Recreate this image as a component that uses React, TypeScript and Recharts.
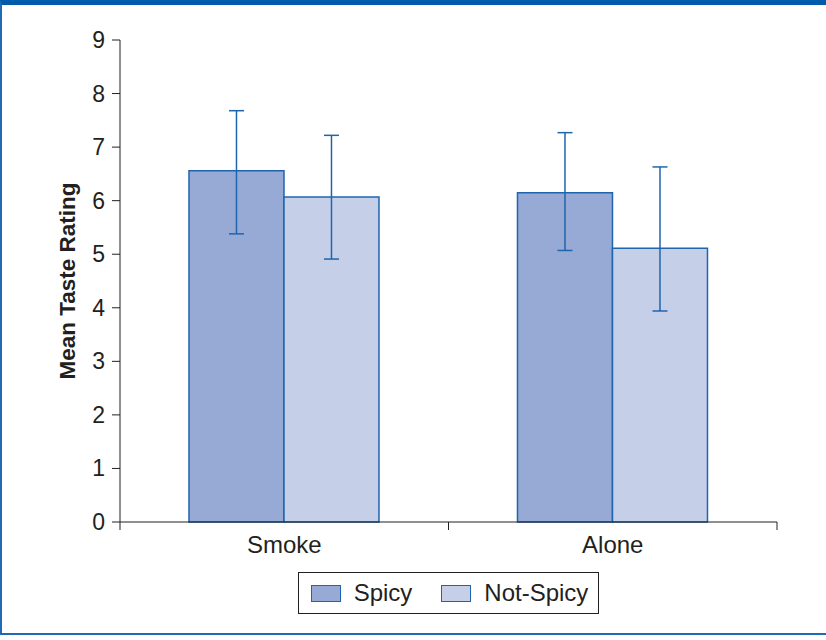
import { BarChart, Bar, XAxis, YAxis, ErrorBar, Legend } from 'recharts';

const categories = ['Smoke', 'Alone'];
const spicy = [6.56, 6.15];
const notSpicy = [6.07, 5.11];
// [below, above] the mean
const spicyErr = [[1.18, 1.12], [1.08, 1.12]];
const notSpicyErr = [[1.16, 1.15], [1.17, 1.52]];
const yTicks = [0, 1, 2, 3, 4, 5, 6, 7, 8, 9];

const data = categories.map((name, i) => ({
  name,
  Spicy: spicy[i],
  'Not-Spicy': notSpicy[i],
  spicyErr: spicyErr[i],
  notSpicyErr: notSpicyErr[i],
}));

const FONT = 'Liberation Sans, Arial, Helvetica, sans-serif';
const INK = '#231f20';
const EDGE = '#1f64af';
const SPICY = '#97aad6';
const NOT_SPICY = '#c5d0e8';

function CategoryTick(props: any) {
  const { x, y, payload, index } = props;
  const half = payload.offset || 0;
  const last = index === categories.length - 1;
  return (
    <g>
      <line x1={x - half} y1={y} x2={x - half} y2={y + 8} stroke={INK} />
      {last && <line x1={x + half} y1={y} x2={x + half} y2={y + 8} stroke={INK} />}
      <text x={x} y={y + 31} textAnchor="middle" fontSize={24} fill={INK} fontFamily={FONT}>
        {payload.value}
      </text>
    </g>
  );
}

function ValueTick(props: any) {
  const { x, y, payload } = props;
  return (
    <text x={x} y={y + 8} textAnchor="end" fontSize={23} fill={INK} fontFamily={FONT}>
      {payload.value}
    </text>
  );
}

function LegendBox() {
  const items = [
    { label: 'Spicy', color: SPICY },
    { label: 'Not-Spicy', color: NOT_SPICY },
  ];
  return (
    <div style={{ display: 'flex', justifyContent: 'center' }}>
      <div
        style={{
          display: 'flex',
          alignItems: 'center',
          border: `1px solid ${INK}`,
          height: 40,
          padding: '0 10px 0 12px',
          fontFamily: FONT,
          fontSize: 24,
          color: INK,
        }}
      >
        {items.map((it, i) => (
          <div key={it.label} style={{ display: 'flex', alignItems: 'center', marginLeft: i ? 29 : 0 }}>
            <span
              style={{
                display: 'inline-block',
                width: 30,
                height: 17,
                background: it.color,
                border: `1.5px solid ${EDGE}`,
                boxSizing: 'border-box',
                marginRight: 13,
              }}
            />
            <span>{it.label}</span>
          </div>
        ))}
      </div>
    </div>
  );
}

export default function App() {
  return (
    <div style={{ position: 'absolute', left: 0, top: 0, width: 826, height: 640, background: '#fff' }}>
      <div
        style={{
          position: 'absolute',
          left: 0,
          top: 0,
          width: 830,
          height: 635,
          borderTop: '5px solid #005baa',
          borderLeft: '2px solid #1f6ab5',
          borderBottom: '2px solid #1f6ab5',
          boxSizing: 'border-box',
        }}
      />
      <div style={{ position: 'absolute', left: 0, top: 0 }}>
        <BarChart
          width={826}
          height={640}
          data={data}
          margin={{ top: 40, right: 49, bottom: 26, left: 0 }}
          barCategoryGap="21%"
          barGap={0}
        >
          <XAxis
            dataKey="name"
            height={50}
            axisLine={{ stroke: INK }}
            tickLine={false}
            tickSize={0}
            tickMargin={0}
            tick={<CategoryTick />}
          />
          <YAxis
            width={120}
            domain={[0, 9]}
            ticks={yTicks}
            interval={0}
            axisLine={{ stroke: INK }}
            tickLine={{ stroke: INK }}
            tickSize={8}
            tickMargin={7}
            tick={<ValueTick />}
            label={{
              value: 'Mean Taste Rating',
              angle: -90,
              position: 'insideLeft',
              offset: 67,
              style: { textAnchor: 'middle', fontSize: 22.5, fontWeight: 'bold', fill: INK, fontFamily: FONT },
            }}
          />
          <Legend
            verticalAlign="bottom"
            height={42}
            wrapperStyle={{ left: 120, width: 657 }}
            content={() => <LegendBox />}
          />
          <Bar dataKey="Spicy" fill={SPICY} stroke={EDGE} strokeWidth={1.5} isAnimationActive={false}>
            <ErrorBar dataKey="spicyErr" width={7.5} stroke={EDGE} strokeWidth={1.5} />
          </Bar>
          <Bar dataKey="Not-Spicy" fill={NOT_SPICY} stroke={EDGE} strokeWidth={1.5} isAnimationActive={false}>
            <ErrorBar dataKey="notSpicyErr" width={7.5} stroke={EDGE} strokeWidth={1.5} />
          </Bar>
        </BarChart>
      </div>
    </div>
  );
}
